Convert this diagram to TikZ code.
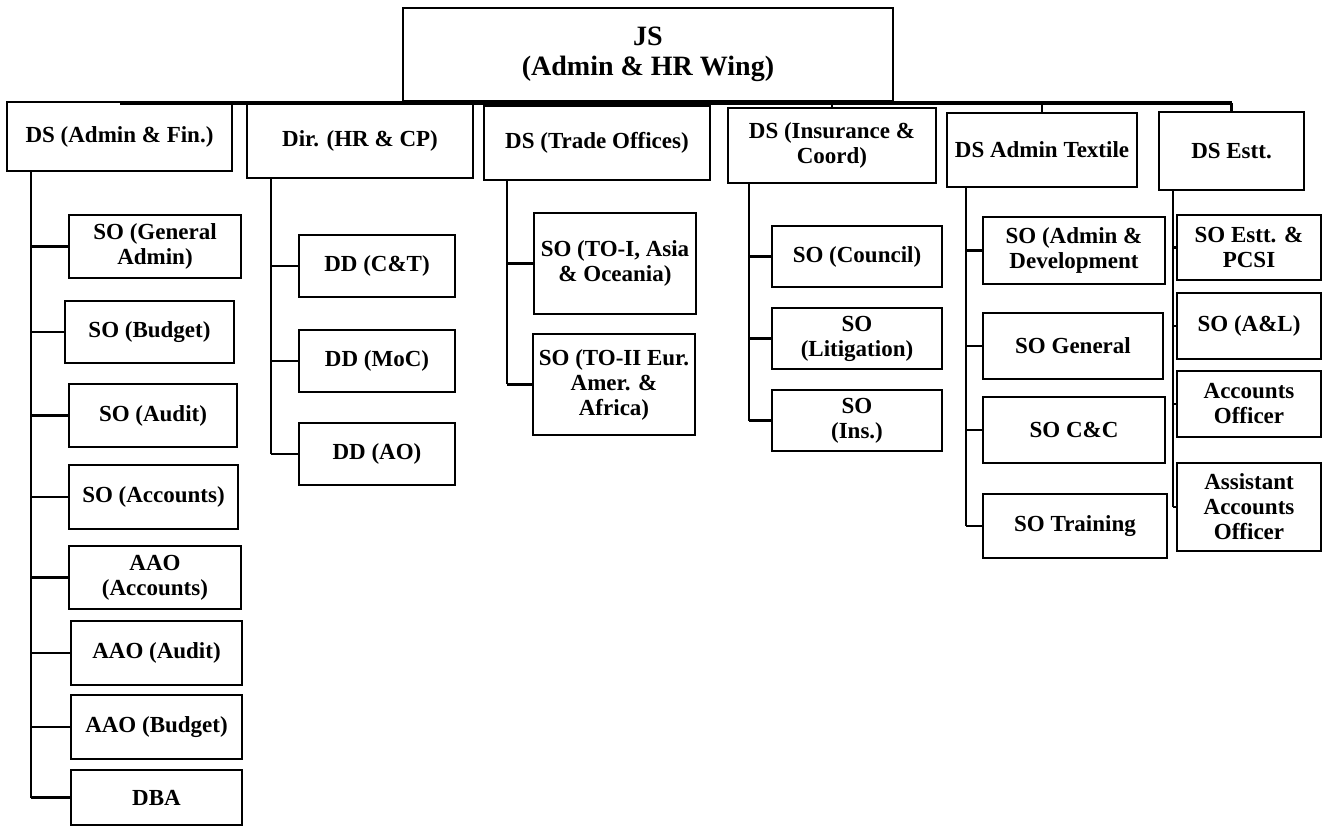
\documentclass[tikz,border=0pt]{standalone}
\usepackage{fontspec}
\setmainfont{Liberation Serif}
\tikzset{
  box/.style={draw=black, line width=2.8pt, inner sep=0pt, align=center,
    font=\bfseries\fontsize{23}{25}\selectfont},
  headbox/.style={font=\bfseries\fontsize{28}{30}\selectfont},
  conn/.style={draw=black, line width=2.6pt},
  busline/.style={draw=black, line width=3.6pt},
}
% \orgbox[style]{name}{x1}{y1}{x2}{y2}{text}: a box given by its corners
\newcommand\orgbox[7][]{%
  \node[box,#1,minimum width={#5-#3},minimum height={#6-#4}]
    (#2) at ({(#3+#5)/2},{(#4+#6)/2}) {#7};}
\begin{document}
\begin{tikzpicture}[x=1pt,y=-1pt]
\useasboundingbox (0,0) rectangle (1326,826);

% head of the wing
\orgbox[headbox]{js}{403}{8}{893}{101}{JS\\(Admin \& HR Wing)}

% deputy secretaries / directors
\orgbox{ds1}{7}{102}{232}{171}{DS (Admin \& Fin.)}
\orgbox{ds2}{247}{103}{473}{178}{Dir. (HR \& CP)}
\orgbox{ds3}{484}{106}{710}{180}{DS (Trade Offices)}
\orgbox{ds4}{728}{108}{936}{183}{DS (Insurance \&\\Coord)}
\orgbox{ds5}{947}{113}{1137}{187}{DS Admin Textile}
\orgbox{ds6}{1159}{112}{1304}{190}{DS Estt.}

% sections under DS (Admin & Fin.)
\orgbox{a1}{69}{215}{241}{278}{SO (General\\Admin)}
\orgbox{a2}{65}{301}{234}{363}{SO (Budget)}
\orgbox{a3}{69}{384}{237}{447}{SO (Audit)}
\orgbox{a4}{69}{465}{238}{529}{SO (Accounts)}
\orgbox{a5}{69}{546}{241}{609}{AAO\\(Accounts)}
\orgbox{a6}{71}{621}{242}{685}{AAO (Audit)}
\orgbox{a7}{71}{695}{242}{759}{AAO (Budget)}
\orgbox{a8}{71}{770}{242}{825}{DBA}

% under Dir. (HR & CP)
\orgbox{b1}{299}{235}{455}{297}{DD (C\&T)}
\orgbox{b2}{299}{330}{455}{392}{DD (MoC)}
\orgbox{b3}{299}{423}{455}{485}{DD (AO)}

% under DS (Trade Offices)
\orgbox{c1}{534}{213}{696}{314}{SO (TO-I, Asia\\\& Oceania)}
\orgbox{c2}{533}{334}{695}{435}{SO (TO-II Eur.\\Amer. \&\\Africa)}

% under DS (Insurance & Coord)
\orgbox{d1}{772}{226}{942}{287}{SO (Council)}
\orgbox{d2}{772}{308}{942}{369}{SO\\(Litigation)}
\orgbox{d3}{772}{390}{942}{451}{SO\\(Ins.)}

% under DS Admin Textile
\orgbox{e1}{983}{217}{1165}{284}{SO (Admin \&\\Development}
\orgbox{e2}{983}{313}{1163}{379}{SO General}
\orgbox{e3}{983}{397}{1165}{463}{SO C\&C}
\orgbox{e4}{983}{494}{1167}{558}{SO Training}

% under DS Estt.
\orgbox{f1}{1177}{215}{1321}{280}{SO Estt. \&\\PCSI}
\orgbox{f2}{1177}{293}{1321}{359}{SO (A\&L)}
\orgbox{f3}{1177}{371}{1321}{437}{Accounts\\Officer}
\orgbox{f4}{1177}{463}{1321}{551}{Assistant\\Accounts\\Officer}

% bus below the head box
\coordinate (bus) at (0,103);
\draw[busline] (ds1.north |- bus) -- (ds6.north |- bus);
\draw[conn] (js.south) -- (js.south |- bus);
\foreach \n in {ds1,ds2,ds3,ds4,ds5,ds6}
  \draw[conn] (\n.north |- bus) -- (\n.north);

% trunk lines of each column
\coordinate (t1) at (31,0);
\coordinate (t2) at (271,0);
\coordinate (t3) at (507,0);
\coordinate (t4) at (749,0);
\coordinate (t5) at (966,0);
\coordinate (t6) at (1173,0);

\draw[conn] (ds1.south -| t1) -- (a8.west -| t1);
\foreach \c in {a1,a2,a3,a4,a5,a6,a7,a8}
  \draw[conn] (\c.west -| t1) -- (\c.west);

\draw[conn] (ds2.south -| t2) -- (b3.west -| t2);
\foreach \c in {b1,b2,b3}
  \draw[conn] (\c.west -| t2) -- (\c.west);

\draw[conn] (ds3.south -| t3) -- (c2.west -| t3);
\foreach \c in {c1,c2}
  \draw[conn] (\c.west -| t3) -- (\c.west);

\draw[conn] (ds4.south -| t4) -- (d3.west -| t4);
\foreach \c in {d1,d2,d3}
  \draw[conn] (\c.west -| t4) -- (\c.west);

\draw[conn] (ds5.south -| t5) -- (e4.west -| t5);
\foreach \c in {e1,e2,e3,e4}
  \draw[conn] (\c.west -| t5) -- (\c.west);

\draw[conn] (ds6.south -| t6) -- (f4.west -| t6);
\foreach \c in {f1,f2,f3,f4}
  \draw[conn] (\c.west -| t6) -- (\c.west);
\end{tikzpicture}
\end{document}
